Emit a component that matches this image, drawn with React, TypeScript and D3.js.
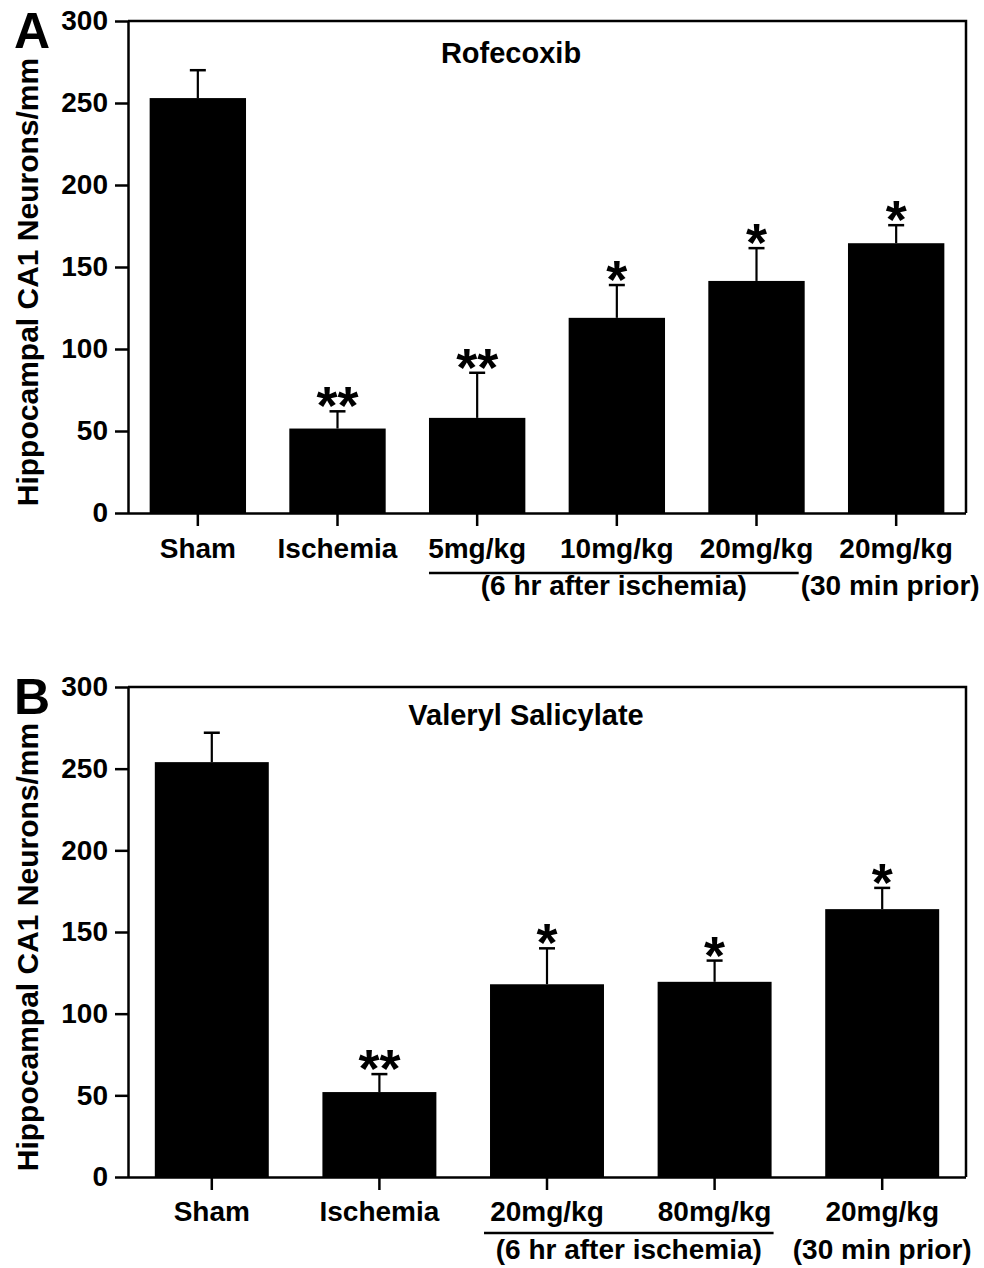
import React, { useEffect, useRef } from 'react';
import * as d3 from 'd3';

// Panel A - Rofecoxib
const catsA = ['Sham', 'Ischemia', '5mg/kg', '10mg/kg', '20mg/kg', '20mg/kg'];
const meansA = [253, 51.5, 58, 119, 141.5, 164.5];
const semA = [17, 10.5, 27.5, 20, 20, 11];
const starsA = ['', '**', '**', '*', '*', '*'];

// Panel B - Valeryl Salicylate
const catsB = ['Sham', 'Ischemia', '20mg/kg', '80mg/kg', '20mg/kg'];
const meansB = [254, 52, 118, 119.5, 164];
const semB = [18, 11, 22, 13, 13];
const starsB = ['', '**', '*', '*', '*'];

const yTicks = [0, 50, 100, 150, 200, 250, 300];
const yTitle = 'Hippocampal CA1 Neurons/mm';
const afterLabel = '(6 hr after ischemia)';
const priorLabel = '(30 min prior)';

const FONT = '"Liberation Sans", Arial, Helvetica, sans-serif';

interface PanelCfg {
  letter: string;
  title: string;
  cats: string[];
  means: number[];
  sem: number[];
  stars: string[];
  top: number;
  bottom: number;
  titleX: number;
  titleDy: number;
  padInner: number;
  groupFrom: number;
  groupTo: number;
  lineL: number;
  lineR: number;
  row1: number;
  lineY: number;
  row2: number;
  priorDx: number;
}

const panels: PanelCfg[] = [
  {
    letter: 'A', title: 'Rofecoxib', cats: catsA, means: meansA, sem: semA, stars: starsA,
    top: 21, bottom: 513, titleX: 511, titleDy: 42, padInner: 0.31,
    groupFrom: 2, groupTo: 4, lineL: 0, lineR: -6,
    row1: 45, lineY: 60, row2: 82, priorDx: -6,
  },
  {
    letter: 'B', title: 'Valeryl Salicylate', cats: catsB, means: meansB, sem: semB, stars: starsB,
    top: 687, bottom: 1177, titleX: 526, titleDy: 38, padInner: 0.32,
    groupFrom: 2, groupTo: 3, lineL: -6, lineR: 2,
    row1: 44, lineY: 56, row2: 82, priorDx: 0,
  },
];

function App() {
  const ref = useRef<SVGSVGElement>(null);

  useEffect(() => {
    const svg = d3.select(ref.current);
    svg.selectAll('*').remove();

    const left = 128;
    const right = 966;

    panels.forEach((p) => {
      const g = svg.append('g').attr('font-family', FONT).attr('font-weight', 'bold');
      const idx = d3.range(p.cats.length);

      const x = d3.scaleBand<number>()
        .domain(idx)
        .range([left, right])
        .paddingInner(p.padInner)
        .paddingOuter(p.padInner / 2);

      const y = d3.scaleLinear().domain([0, 300]).range([p.bottom, p.top]);
      const cx = (i: number) => (x(i) as number) + x.bandwidth() / 2;

      // bars
      g.selectAll('rect.bar')
        .data(p.means)
        .join('rect')
        .attr('class', 'bar')
        .attr('x', (d, i) => x(i) as number)
        .attr('y', (d) => y(d))
        .attr('width', x.bandwidth())
        .attr('height', (d) => y(0) - y(d))
        .attr('fill', '#000');

      // error bars
      const err = g.selectAll('g.err').data(p.means).join('g').attr('class', 'err');
      err.append('line')
        .attr('x1', (d, i) => cx(i)).attr('x2', (d, i) => cx(i))
        .attr('y1', (d) => y(d)).attr('y2', (d, i) => y(d + p.sem[i]))
        .attr('stroke', '#000').attr('stroke-width', 2.2);
      err.append('line')
        .attr('x1', (d, i) => cx(i) - 8).attr('x2', (d, i) => cx(i) + 8)
        .attr('y1', (d, i) => y(d + p.sem[i])).attr('y2', (d, i) => y(d + p.sem[i]))
        .attr('stroke', '#000').attr('stroke-width', 2.5);

      // significance stars
      g.selectAll('text.star')
        .data(p.means)
        .join('text')
        .attr('class', 'star')
        .attr('x', (d, i) => cx(i))
        .attr('y', (d, i) => y(d + p.sem[i]) + 13)
        .attr('text-anchor', 'middle')
        .attr('font-size', 54)
        .text((d, i) => p.stars[i]);

      // frame: top and right
      g.append('path')
        .attr('d', `M${left},${p.top}H${right}V${p.bottom}`)
        .attr('fill', 'none').attr('stroke', '#000').attr('stroke-width', 2.5);

      // y axis
      const yAxis = d3.axisLeft(y).tickValues(yTicks).tickSize(13).tickPadding(7).tickSizeOuter(0);
      const ya = g.append('g').attr('transform', `translate(${left},0)`).call(yAxis);
      ya.selectAll('path, line').attr('stroke', '#000').attr('stroke-width', 2.5);
      ya.selectAll('text')
        .attr('font-family', FONT).attr('font-weight', 'bold')
        .attr('font-size', 28).attr('fill', '#000');

      // x axis
      const xAxis = d3.axisBottom(x).tickSize(13).tickSizeOuter(0).tickFormat(() => '');
      const xa = g.append('g').attr('transform', `translate(0,${p.bottom})`).call(xAxis);
      xa.select('.domain').attr('d', `M${left},0.5H${right}`);
      xa.selectAll('path, line').attr('stroke', '#000').attr('stroke-width', 2.5);

      // category labels
      g.selectAll('text.cat')
        .data(p.cats)
        .join('text')
        .attr('class', 'cat')
        .attr('x', (d, i) => cx(i))
        .attr('y', p.bottom + p.row1)
        .attr('text-anchor', 'middle')
        .attr('font-size', 28)
        .text((d) => d);

      // grouping line and sub-labels
      const gl = (x(p.groupFrom) as number) + p.lineL;
      const gr = (x(p.groupTo) as number) + x.bandwidth() + p.lineR;
      g.append('line')
        .attr('x1', gl).attr('x2', gr)
        .attr('y1', p.bottom + p.lineY).attr('y2', p.bottom + p.lineY)
        .attr('stroke', '#000').attr('stroke-width', 2.5);
      g.append('text')
        .attr('x', (gl + gr) / 2).attr('y', p.bottom + p.row2)
        .attr('text-anchor', 'middle').attr('font-size', 28)
        .text(afterLabel);
      g.append('text')
        .attr('x', cx(p.cats.length - 1) + p.priorDx).attr('y', p.bottom + p.row2)
        .attr('text-anchor', 'middle').attr('font-size', 28)
        .text(priorLabel);

      // title
      g.append('text')
        .attr('x', p.titleX).attr('y', p.top + p.titleDy)
        .attr('text-anchor', 'middle').attr('font-size', 29)
        .text(p.title);

      // y title
      const midY = (p.top + p.bottom) / 2 + 15;
      g.append('text')
        .attr('transform', `translate(38,${midY}) rotate(-90)`)
        .attr('text-anchor', 'middle').attr('font-size', 30)
        .text(yTitle);

      // panel letter
      g.append('text')
        .attr('x', 14).attr('y', p.top + 27)
        .attr('font-size', 50)
        .text(p.letter);
    });
  }, []);

  return (
    <div style={{ position: 'absolute', left: 0, top: 0 }}>
      <svg ref={ref} width={984} height={1268} style={{ display: 'block', background: '#fff' }} />
    </div>
  );
}

export default App;
